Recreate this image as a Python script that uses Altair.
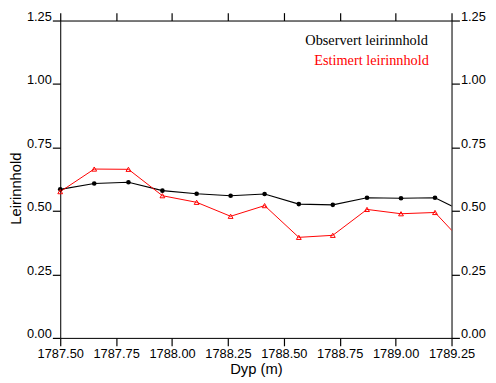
import altair as alt
import pandas as pd

depth = [1787.500, 1787.652, 1787.805, 1787.957, 1788.110, 1788.262, 1788.414,
         1788.567, 1788.719, 1788.872, 1789.024, 1789.176, 1789.329]
observed = [0.585, 0.608, 0.613, 0.580, 0.568, 0.560, 0.567,
            0.527, 0.524, 0.552, 0.550, 0.552, 0.486]
estimated = [0.576, 0.665, 0.664, 0.560, 0.534, 0.479, 0.521,
             0.396, 0.404, 0.506, 0.489, 0.494, 0.350]
x_ticks = [1787.50, 1787.75, 1788.00, 1788.25, 1788.50, 1788.75, 1789.00, 1789.25]
y_ticks = [0.00, 0.25, 0.50, 0.75, 1.00, 1.25]
legend_labels = ["Observert leirinnhold", "Estimert leirinnhold"]

df = pd.DataFrame({"depth": depth, "obs": observed, "est": estimated})

xs = alt.Scale(domain=[1787.5, 1789.25], nice=False, zero=False)
ys = alt.Scale(domain=[0, 1.25], nice=False, zero=True)

lab = dict(labelFont="Liberation Sans", labelFontSize=13, labelColor="black",
           domainColor="black", tickColor="black", tickSize=8, tickWidth=1.2,
           grid=False, labelFlush=False, labelOverlap=False, ticks=True,
           titleFont="Liberation Sans", titleFontSize=15, titleFontWeight="normal",
           titleColor="black")

x_bottom = alt.Axis(orient="bottom", values=x_ticks, format=".2f", title="Dyp (m)",
                    labelPadding=2, titleY=36, titleBaseline="alphabetic", **lab)
x_top = alt.Axis(orient="top", values=x_ticks, labels=False, title=None, **lab)
y_left = alt.Axis(orient="left", values=y_ticks, format=".2f", title="Leirinnhold",
                  labelBaseline="alphabetic", labelPadding=1,
                  titleX=-40, titleY=170, titleAngle=270, titleAlign="center",
                  titleBaseline="alphabetic", **lab)
y_right = alt.Axis(orient="right", values=y_ticks, format=".2f", title=None,
                   labelBaseline="alphabetic", labelPadding=1, **lab)

base = alt.Chart(df)

obs_line = base.mark_line(color="black", strokeWidth=1.1, clip=True).encode(
    x=alt.X("depth:Q", scale=xs, axis=x_bottom),
    y=alt.Y("obs:Q", scale=ys, axis=y_left),
)
est_line = base.mark_line(color="red", strokeWidth=1, clip=True).encode(
    x=alt.X("depth:Q", scale=xs, axis=x_top),
    y=alt.Y("est:Q", scale=ys, axis=y_right),
)
obs_pts = base.transform_filter("datum.depth <= 1789.25").mark_point(
    shape="circle", filled=True, color="black", size=22, opacity=1
).encode(
    x=alt.X("depth:Q", scale=xs, axis=None),
    y=alt.Y("obs:Q", scale=ys, axis=None),
)
est_pts = base.transform_filter("datum.depth <= 1789.25").mark_point(
    shape="triangle-up", filled=False, color="red", size=24, strokeWidth=1, opacity=1
).encode(
    x=alt.X("depth:Q", scale=xs, axis=None),
    y=alt.Y("est:Q", scale=ys, axis=None),
)

t1 = alt.Chart(pd.DataFrame({"t": [legend_labels[0]]})).mark_text(
    font="Liberation Serif", fontSize=14.5, color="black", align="right",
    baseline="alphabetic"
).encode(text="t:N", x=alt.value(373), y=alt.value(25))
t2 = alt.Chart(pd.DataFrame({"t": [legend_labels[1]]})).mark_text(
    font="Liberation Serif", fontSize=14.5, color="red", align="right",
    baseline="alphabetic"
).encode(text="t:N", x=alt.value(374), y=alt.value(45))

chart = alt.layer(obs_line, est_line, obs_pts, est_pts, t1, t2).resolve_axis(
    x="independent", y="independent"
).properties(
    width=397, height=322,
    autosize=alt.AutoSizeParams(type="none"),
    padding={"left": 53, "top": 10, "right": 37, "bottom": 40},
).configure_view(stroke=None).configure(background="white")

chart.save("out.html", embed_options={"renderer": "svg", "actions": False})
